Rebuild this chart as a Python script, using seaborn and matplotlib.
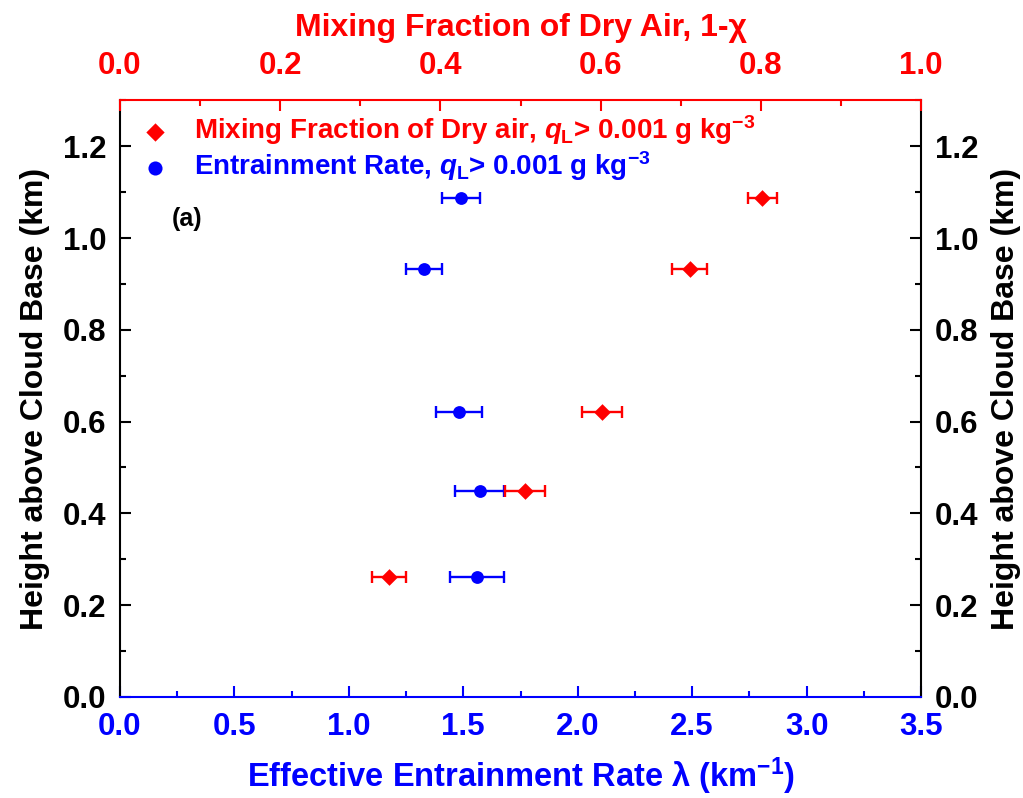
import pandas as pd
import matplotlib
matplotlib.use('Agg')
import matplotlib.pyplot as plt
import seaborn as sns
from matplotlib.ticker import MultipleLocator

sns.set_theme(style='ticks')
plt.rcParams['font.family'] = ['Liberation Sans', 'DejaVu Sans']
plt.rcParams['font.weight'] = 'bold'
plt.rcParams['mathtext.fontset'] = 'custom'
plt.rcParams['mathtext.rm'] = 'Liberation Sans:bold'
plt.rcParams['mathtext.it'] = 'Liberation Sans:bold:italic'
plt.rcParams['mathtext.bf'] = 'Liberation Sans:bold'

# data
heights = [0.261, 0.449, 0.621, 0.933, 1.087]          # km above cloud base
entrain_rate = [1.561, 1.571, 1.480, 1.329, 1.490]     # km^-1
entrain_err = [0.118, 0.109, 0.100, 0.080, 0.082]
mix_frac = [0.336, 0.506, 0.602, 0.711, 0.802]         # 1 - chi
mix_err = [0.021, 0.025, 0.025, 0.022, 0.018]

RED = '#ff0000'
BLUE = '#0000ff'

df = pd.DataFrame({'height': heights, 'lam': entrain_rate, 'lam_err': entrain_err,
                   'mix': mix_frac, 'mix_err': mix_err})

fig = plt.figure(figsize=(10.23, 7.98), dpi=100)
ax = fig.add_axes([0.1173, 0.1269, 0.783, 0.7472])
ax_top = ax.twiny()

# entrainment rate (bottom axis)
ax.errorbar(df['lam'], df['height'], xerr=df['lam_err'], fmt='none', ecolor=BLUE,
            elinewidth=1.7, capsize=4.5, capthick=1.7, zorder=2)
sns.scatterplot(data=df, x='lam', y='height', ax=ax, marker='o', s=85, color=BLUE,
                linewidth=0, zorder=3, label=r'Entrainment Rate, $q_{\mathrm{L}}$> 0.001 g kg$^{-3}$')

# mixing fraction (top axis)
ax_top.errorbar(df['mix'], df['height'], xerr=df['mix_err'], fmt='none', ecolor=RED,
                elinewidth=1.7, capsize=4.5, capthick=1.7, zorder=2)
sns.scatterplot(data=df, x='mix', y='height', ax=ax_top, marker='D', s=72, color=RED,
                linewidth=0, zorder=3, label=r'Mixing Fraction of Dry air, $q_{\mathrm{L}}$> 0.001 g kg$^{-3}$')

for a in (ax, ax_top):
    if a.get_legend() is not None:
        a.get_legend().remove()

ax.set_xlim(0, 3.5)
ax.set_ylim(0, 1.3)
ax_top.set_xlim(0, 1.0)

# bottom axis
ax.xaxis.set_major_locator(MultipleLocator(0.5))
ax.xaxis.set_minor_locator(MultipleLocator(0.25))
ax.tick_params(axis='x', which='both', direction='in', colors=BLUE, width=1.5,
               labelsize=22.5, pad=11)
ax.tick_params(axis='x', which='major', length=8)
ax.tick_params(axis='x', which='minor', length=4.5)
ax.set_xlabel(r'Effective Entrainment Rate λ (km$^{-1}$)', color=BLUE,
              fontsize=23.5, fontweight='bold', labelpad=10)

# left and right axis (same scale)
ax.yaxis.set_major_locator(MultipleLocator(0.2))
ax.yaxis.set_minor_locator(MultipleLocator(0.1))
ax.tick_params(axis='y', which='both', direction='in', colors='black', width=1.5,
               labelsize=22.5, pad=10, left=True, right=True, labelleft=True, labelright=True)
ax.tick_params(axis='y', which='major', length=8)
ax.tick_params(axis='y', which='minor', length=4.5)
ax.set_ylabel('Height above Cloud Base (km)', fontsize=23, fontweight='bold',
              color='black', labelpad=9)
ax.text(1.1055, 0.5, 'Height above Cloud Base (km)', transform=ax.transAxes,
        rotation=90, fontsize=23, fontweight='bold', color='black',
        ha='center', va='center')

# top axis
ax_top.xaxis.set_major_locator(MultipleLocator(0.2))
ax_top.xaxis.set_minor_locator(MultipleLocator(0.1))
ax_top.tick_params(axis='x', which='both', direction='in', colors=RED, width=1.5,
                   labelsize=22.5, pad=14)
ax_top.tick_params(axis='x', which='major', length=8)
ax_top.tick_params(axis='x', which='minor', length=4.5)
ax_top.set_xlabel('Mixing Fraction of Dry Air, 1-χ', color=RED, fontsize=23,
                  fontweight='bold', labelpad=11)

# spines
for side in ('left', 'right', 'bottom', 'top'):
    ax.spines[side].set_linewidth(1.5)
ax.spines['left'].set_color('black')
ax.spines['right'].set_color('black')
ax.spines['bottom'].set_color(BLUE)
ax.spines['top'].set_visible(False)
for side in ('left', 'right', 'bottom'):
    ax_top.spines[side].set_visible(False)
ax_top.spines['top'].set_color(RED)
ax_top.spines['top'].set_linewidth(1.5)

# legend
h_red, l_red = ax_top.get_legend_handles_labels()
h_blue, l_blue = ax.get_legend_handles_labels()
leg = ax_top.legend(h_red + h_blue, l_red + l_blue, loc='upper left',
                    bbox_to_anchor=(0.026, 0.978), frameon=False, fontsize=20,
                    handlelength=1.0, handletextpad=0.9, labelspacing=0.08,
                    borderpad=0, borderaxespad=0, scatterpoints=1, markerscale=1.1)
for txt, col in zip(leg.get_texts(), [RED, BLUE]):
    txt.set_color(col)
    txt.set_fontweight('bold')

ax.text(0.084, 0.801, '(a)', transform=ax.transAxes, fontsize=18, fontweight='bold',
        color='black', ha='center', va='center')

fig.savefig('out.png', dpi=100, facecolor='white')
